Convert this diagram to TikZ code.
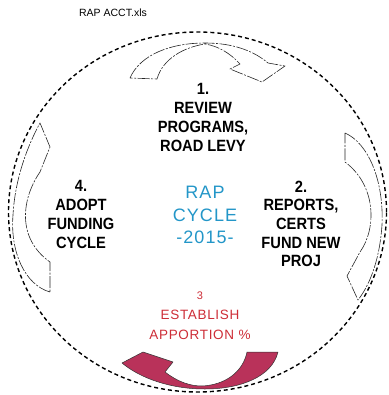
\documentclass[tikz,border=0pt]{standalone}
\usepackage{fontspec}
\setmainfont{Liberation Sans}
\newfontfamily\lblfont[FakeStretch=0.9]{Liberation Sans}
\newfontfamily\spacedblue[LetterSpace=6]{Liberation Sans}
\newfontfamily\spacedred[LetterSpace=5]{Liberation Sans}
\definecolor{cycleblue}{RGB}{35,150,200}
\definecolor{apred}{RGB}{205,45,55}
\definecolor{arrowred}{RGB}{185,50,90}
\begin{document}
\begin{tikzpicture}[x=1pt,y=-1pt,
  lbl/.style={inner sep=0pt, anchor=north, align=center, font=\lblfont\bfseries\fontsize{16.3}{18.7}\selectfont},
  ring/.style={draw=black, line width=1.4pt, dash pattern=on 4pt off 3pt},
  hollowarrow/.style={draw=black!85, line width=0.6pt, line join=round, dash pattern=on 12pt off 1.5pt on 2pt off 1.5pt},
  solidarrow/.style={fill=arrowred, draw=black!80, line width=0.5pt, line join=round}]
\useasboundingbox (0,0) rectangle (388,395);
% file name
\node[inner sep=0pt, anchor=base, font=\fontsize{10.5}{12}\selectfont] (fname) at (113,17) {RAP ACCT.xls};
% dashed ring
\draw[ring] (197.5,212) ellipse [x radius=189pt, y radius=180pt];
% top arrow
\draw[hollowarrow] (130,78) .. controls (140,55) and (170,43) .. (205,43)
  .. controls (235,43) and (255,52) .. (268,63) -- (285,66) -- (262,82) -- (230,69) -- (240,64)
  .. controls (230,53) and (218,46) .. (205,44)
  .. controls (185,47) and (163,58) .. (157,79) -- cycle;
% right arrow
\draw[hollowarrow] (345,133) .. controls (368,143) and (384,180) .. (382,225)
  .. controls (380,255) and (372,282) .. (358,300) -- (347,276) -- (360,252)
  .. controls (377,228) and (376,185) .. (345,162) -- cycle;
% left arrow
\draw[hollowarrow] (50,292) .. controls (25,285) and (10,252) .. (13,215)
  .. controls (15,178) and (28,145) .. (40,123) -- (50,147) -- (40,172)
  .. controls (22,198) and (16,238) .. (50,262) -- cycle;
% bottom arrow
\filldraw[solidarrow] (278,352) .. controls (272,377) and (240,389) .. (205,389)
  .. controls (170,389) and (140,378) .. (122,363) -- (143,352) -- (173,362) -- (165,372)
  .. controls (178,382) and (190,386) .. (202,386)
  .. controls (225,385) and (243,372) .. (247,352) -- cycle;
% labels
\node[lbl] (s1) at (203,83.5) {1.\\REVIEW\\PROGRAMS,\\ROAD LEVY};
\node[lbl] (s4) at (81,180.5) {4.\\ADOPT\\FUNDING\\CYCLE};
\node[lbl] (s2) at (301,180.5) {2.\\REPORTS,\\CERTS\\FUND NEW\\PROJ};
\node[inner sep=0pt, anchor=north, align=center, text=cycleblue, font=\spacedblue\fontsize{18}{22.5}\selectfont] (rap) at (205,186) {RAP\\CYCLE\\-2015-};
\node[inner sep=0pt, anchor=north, align=center, text=apred, font=\spacedred\fontsize{13.5}{20}\selectfont] (s3) at (200,292) {{\fontsize{11}{12}\selectfont 3}\\ESTABLISH\\APPORTION \%};
\end{tikzpicture}
\end{document}
